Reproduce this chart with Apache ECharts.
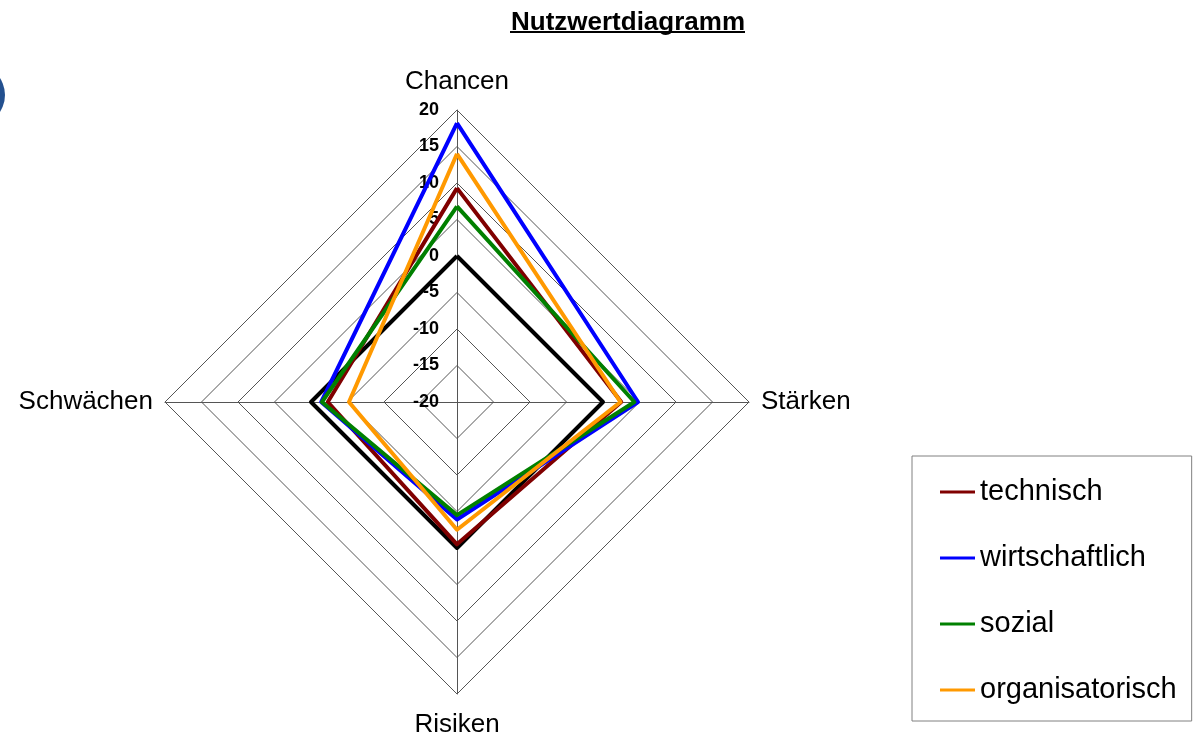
<!DOCTYPE html>
<html>
<head>
<meta charset="utf-8">
<script src="https://cdn.jsdelivr.net/npm/echarts@6/dist/echarts.min.js"></script>
<style>
html,body{margin:0;padding:0;background:#fff;}
#chart{width:1200px;height:734px;}
</style>
</head>
<body>
<div id="chart"></div>
<script>
// Indicators (counterclockwise from top)
const categories = ['Chancen', 'Schwächen', 'Risiken', 'Stärken'];
const axisMin = -20;
const axisMax = 20;
const seriesNames = ['technisch', 'wirtschaftlich', 'sozial', 'organisatorisch'];
const nullLinie = [0, 0, 0, 0];
const technisch = [9.3, -2.3, -0.5, 2.5];
const wirtschaftlich = [18.2, -1.4, -3.9, 4.8];
const sozial = [6.8, -1.5, -4.5, 4.3];
const organisatorisch = [14, -5.2, -2.5, 2.4];
const colors = ['#800000', '#0000ff', '#008000', '#ff9900'];

const chart = echarts.init(document.getElementById('chart'));
const font = 'Arial, "Liberation Sans", sans-serif';

const nameGaps = [15, 12, 18, 12];
const indicator = categories.map((name, i) => {
  const o = { name: name, min: axisMin, max: axisMax, nameGap: nameGaps[i] };
  if (i === 0) o.axisLabel = { show: true };
  return o;
});

const values = [technisch, wirtschaftlich, sozial, organisatorisch];

const series = [{
  type: 'radar',
  name: 'Null',
  symbol: 'none',
  silent: true,
  lineStyle: { color: '#000', width: 4 },
  itemStyle: { color: '#000' },
  data: [{ value: nullLinie, name: 'Null' }],
  z: 2
}].concat(values.map((v, i) => ({
  type: 'radar',
  name: seriesNames[i],
  symbol: 'none',
  lineStyle: { color: colors[i], width: 4 },
  itemStyle: { color: colors[i] },
  data: [{ value: v, name: seriesNames[i] }],
  z: 3 + i
})));

chart.setOption({
  animation: false,
  backgroundColor: '#fff',
  title: {
    text: 'Nutzwertdiagramm',
    left: 623,
    top: 5,
    textAlign: 'center',
    textStyle: { fontFamily: font, fontSize: 26, fontWeight: 'bold', color: '#000' }
  },
  legend: {
    orient: 'vertical',
    left: 912,
    top: 456,
    data: seriesNames,
    icon: 'rect',
    itemWidth: 35,
    itemHeight: 3,
    itemGap: 36,
    padding: [21, 15, 16, 28],
    borderColor: '#808080',
    borderWidth: 1,
    textStyle: { fontFamily: font, fontSize: 29, lineHeight: 30, color: '#000' }
  },
  radar: {
    center: [457, 402],
    radius: 292,
    startAngle: 90,
    shape: 'polygon',
    splitNumber: 8,
    indicator: indicator,
    nameGap: 12,
    axisName: { color: '#000', fontFamily: font, fontSize: 26 },
    axisLine: { show: true, lineStyle: { color: '#555', width: 1 } },
    splitLine: { show: true, lineStyle: { color: '#555', width: 1 } },
    splitArea: { show: false },
    axisTick: { show: false },
    axisLabel: { show: false, color: '#000', fontFamily: font, fontSize: 18, fontWeight: 'bold', margin: 18 }
  },
  graphic: [
    { type: 'line', shape: { x1: 510, y1: 32, x2: 745, y2: 32 }, style: { stroke: '#000', lineWidth: 2 } },
    { type: 'circle', shape: { cx: -26, cy: 95, r: 31 }, style: { fill: '#23508f' } }
  ],
  series: series
});
</script>
</body>
</html>
